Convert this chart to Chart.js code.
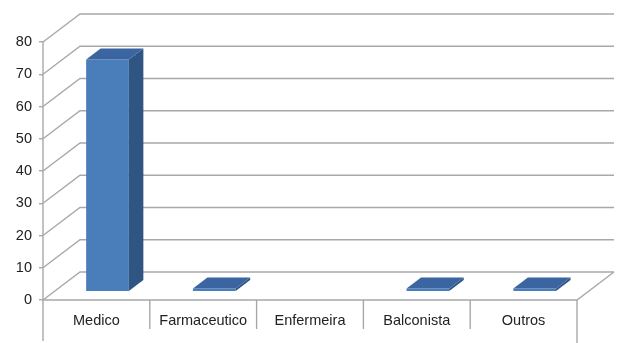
<!DOCTYPE html>
<html>
<head>
<meta charset="utf-8">
<script src="https://cdn.jsdelivr.net/npm/chart.js@4"></script>
<style>
  html, body { margin: 0; padding: 0; background: #ffffff; }
  #wrap { width: 621px; height: 343px; }
</style>
</head>
<body>
<div id="wrap"><canvas id="c" width="621" height="343"></canvas></div>
<script>
const categories = ['Medico', 'Farmaceutico', 'Enfermeira', 'Balconista', 'Outros'];
const values = [72, 1, 0, 1, 1];
const yMin = 0;
const yMax = 80;
const yStep = 10;

const GRID = '#a8a8a8';
const FRONT = '#4a7ebb';
const SIDE = '#2f5583';
const TOP = '#3b65a0';
const DEPTH = { dx: 37, dy: -28 };     // floor / wall depth
const BAR_POS = 0.3;                    // bar front position within depth
const BAR_DEPTH = { dx: 14.5, dy: -11 };

const threeD = {
  id: 'threeD',
  beforeDatasetsDraw(chart) {
    const { ctx, chartArea: a, scales: { x, y } } = chart;
    ctx.save();
    ctx.strokeStyle = GRID;
    ctx.lineWidth = 1.4;
    ctx.lineCap = 'butt';
    y.ticks.forEach(t => {
      const yf = y.getPixelForValue(t.value);
      ctx.beginPath();
      ctx.moveTo(a.left, yf);
      ctx.lineTo(a.left + DEPTH.dx, yf + DEPTH.dy);
      ctx.lineTo(a.right + DEPTH.dx, yf + DEPTH.dy);
      ctx.stroke();
    });
    ctx.beginPath();
    ctx.moveTo(a.left, a.bottom);
    ctx.lineTo(a.right, a.bottom);
    ctx.lineTo(a.right + DEPTH.dx, a.bottom + DEPTH.dy);
    ctx.stroke();
    ctx.beginPath();
    ctx.moveTo(a.left, a.top);
    ctx.lineTo(a.left, 341);
    ctx.stroke();
    for (let i = 1; i < categories.length; i++) {
      const xb = x.getPixelForValue(i - 0.5);
      ctx.beginPath();
      ctx.moveTo(xb, a.bottom);
      ctx.lineTo(xb, a.bottom + 29);
      ctx.stroke();
    }
    ctx.beginPath();
    ctx.moveTo(a.right, a.bottom);
    ctx.lineTo(a.right, 343);
    ctx.stroke();
    ctx.restore();

    ctx.save();
    ctx.translate(DEPTH.dx * BAR_POS, DEPTH.dy * BAR_POS);
  },
  afterDatasetsDraw(chart) {
    const { ctx } = chart;
    const meta = chart.getDatasetMeta(0);
    meta.data.forEach((el, i) => {
      if (!values[i]) return;
      const p = el.getProps(['x', 'y', 'base', 'width'], true);
      const l = p.x - p.width / 2, r = p.x + p.width / 2;
      const dx = BAR_DEPTH.dx, dy = BAR_DEPTH.dy;
      ctx.fillStyle = SIDE;
      ctx.beginPath();
      ctx.moveTo(r, p.y);
      ctx.lineTo(r + dx, p.y + dy);
      ctx.lineTo(r + dx, p.base + dy);
      ctx.lineTo(r, p.base);
      ctx.closePath();
      ctx.fill();
      ctx.fillStyle = TOP;
      ctx.beginPath();
      ctx.moveTo(l, p.y);
      ctx.lineTo(l + dx, p.y + dy);
      ctx.lineTo(r + dx, p.y + dy);
      ctx.lineTo(r, p.y);
      ctx.closePath();
      ctx.fill();
    });
    ctx.restore();
  }
};

new Chart(document.getElementById('c'), {
  type: 'bar',
  data: {
    labels: categories,
    datasets: [{
      data: values,
      backgroundColor: FRONT,
      borderWidth: 0,
      barPercentage: 0.4,
      categoryPercentage: 1
    }]
  },
  options: {
    responsive: false,
    animation: false,
    layout: { padding: { left: 0, right: 44, top: 42, bottom: 0 } },
    plugins: { legend: { display: false }, tooltip: { enabled: false } },
    scales: {
      x: {
        grid: { display: false, drawTicks: false },
        border: { display: false },
        ticks: {
          autoSkip: false, maxRotation: 0, padding: 12,
          color: '#222', font: { family: 'Liberation Sans', size: 14.5 }
        },
        afterFit(s) { s.height = 43; }
      },
      y: {
        min: yMin, max: yMax,
        grid: { display: true, drawOnChartArea: false, drawTicks: true, tickLength: 4, color: GRID, lineWidth: 1.4 },
        border: { display: false },
        ticks: {
          stepSize: yStep, padding: 7,
          color: '#222', font: { family: 'Liberation Sans', size: 14.5 }
        },
        afterFit(s) { s.width = 43; }
      }
    }
  },
  plugins: [threeD]
});
</script>
</body>
</html>
